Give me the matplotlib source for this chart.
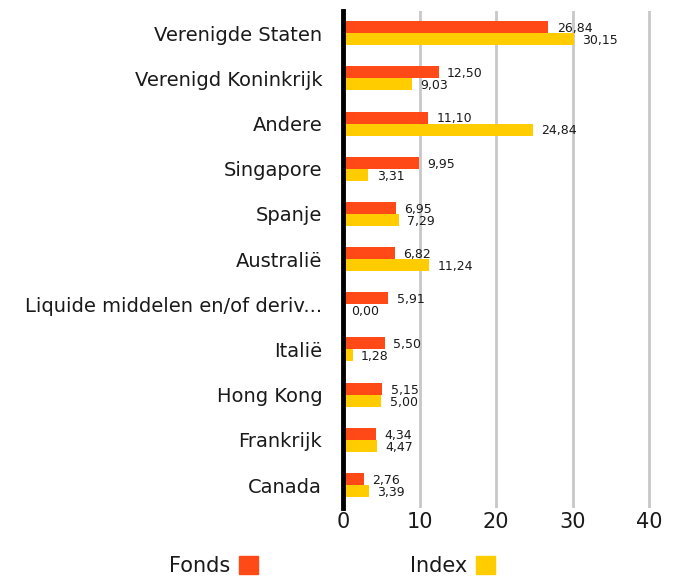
import matplotlib
matplotlib.use("Agg")
import matplotlib.pyplot as plt
import numpy as np
from matplotlib.patches import Patch

plt.rcParams['font.family'] = ['DejaVu Sans']

categories = ["Verenigde Staten", "Verenigd Koninkrijk", "Andere", "Singapore", "Spanje",
              "Australië", "Liquide middelen en/of deriv...", "Italië", "Hong Kong",
              "Frankrijk", "Canada"]
fonds = [26.84, 12.50, 11.10, 9.95, 6.95, 6.82, 5.91, 5.50, 5.15, 4.34, 2.76]
index = [30.15, 9.03, 24.84, 3.31, 7.29, 11.24, 0.00, 1.28, 5.00, 4.47, 3.39]
xticks = [0, 10, 20, 30, 40]

c_fonds = "#FF4A17"
c_index = "#FFCC00"
txt = "#1a1a1a"

fig = plt.figure(figsize=(6.75, 5.81), dpi=100)
ppu = (649 - 343) / 40.0
xmax = 40.4
ax = fig.add_axes([343/675, 1-507.6/581, xmax*ppu/675, 497/581])

n = len(categories)
y = np.arange(n)
h = 0.265
ax.barh(y - h/2, fonds, height=h, color=c_fonds, zorder=3)
ax.barh(y + h/2, index, height=h, color=c_index, zorder=3)

for i in range(n):
    ax.annotate(f"{fonds[i]:.2f}".replace(".", ","), (fonds[i], y[i] - h/2),
                xytext=(6, -1), textcoords="offset points", va="center", ha="left",
                fontsize=9, color=txt, zorder=4)
    ax.annotate(f"{index[i]:.2f}".replace(".", ","), (index[i], y[i] + h/2),
                xytext=(6, -1), textcoords="offset points", va="center", ha="left",
                fontsize=9, color=txt, zorder=4)

ax.set_ylim(n - 0.5, -0.5)
ax.set_xlim(0, xmax)
ax.set_yticks(y)
ax.set_yticklabels(categories, fontsize=14, color=txt)
ax.set_xticks(xticks)
ax.set_xticklabels([str(t) for t in xticks], fontsize=15, color=txt)
ax.tick_params(axis="both", length=0)
ax.tick_params(axis="y", pad=15)
ax.tick_params(axis="x", pad=3.5)
for s in ["top", "right", "bottom"]:
    ax.spines[s].set_visible(False)
ax.spines["left"].set_linewidth(3.5)
ax.spines["left"].set_color("black")
ax.spines["left"].set_zorder(5)
ax.xaxis.grid(True, color="#c8c8c8", linewidth=2, zorder=0)
ax.set_axisbelow(True)

handles = [Patch(color=c_fonds, label="Fonds"), Patch(color=c_index, label="Index")]
fig.legend(handles=handles, loc="center", bbox_to_anchor=(332/675, 1-566/581), ncol=2,
           frameon=False, markerfirst=False, fontsize=15, handlelength=0.91,
           handleheight=0.91, handletextpad=0.43, columnspacing=7.3,
           labelcolor=txt, borderpad=0)

fig.savefig("out.png", dpi=100)
